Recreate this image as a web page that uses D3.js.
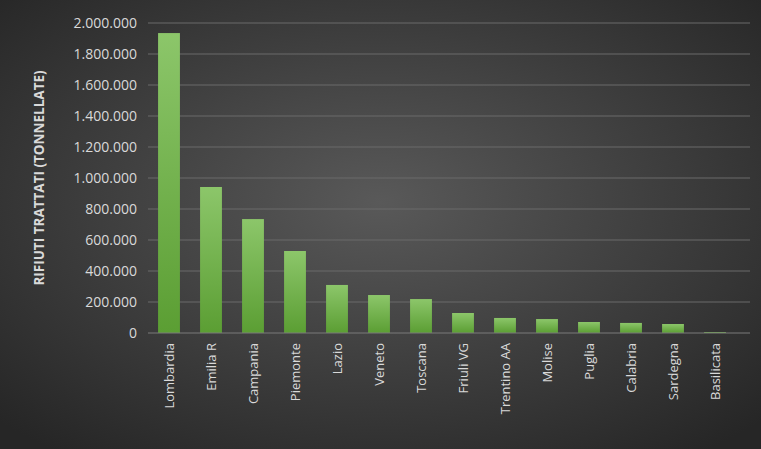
<!DOCTYPE html>
<html><head><meta charset="utf-8">
<script src="https://cdn.jsdelivr.net/npm/d3@7"></script>
<style>body{margin:0;background:#333}svg{display:block}</style>
</head><body>
<svg id="chart" width="761" height="449"></svg>
<script>
// dati
const regions = ['Lombardia','Emilia R','Campania','Piemonte','Lazio','Veneto','Toscana','Friuli VG','Trentino AA','Molise','Puglia','Calabria','Sardegna','Basilicata'];
const tonnes = [1935000, 942000, 735000, 529000, 310000, 245000, 219000, 129000, 97000, 90000, 71000, 65000, 58000, 6000];
const yTicks = [0,200000,400000,600000,800000,1000000,1200000,1400000,1600000,1800000,2000000];

const W = 761, H = 449;
const margin = {top: 23, right: 11, bottom: 116, left: 148};
const svg = d3.select('#chart');
const defs = svg.append('defs');

const bg = defs.append('radialGradient').attr('id','bg').attr('cx','50%').attr('cy','45%').attr('r','70%');
bg.append('stop').attr('offset','0%').attr('stop-color','#595959');
bg.append('stop').attr('offset','100%').attr('stop-color','#262626');

const barGrad = defs.append('linearGradient').attr('id','bar').attr('x1',0).attr('y1',0).attr('x2',0).attr('y2',1);
barGrad.append('stop').attr('offset','0%').attr('stop-color','#8cc66a');
barGrad.append('stop').attr('offset','100%').attr('stop-color','#5b9e33');

svg.append('rect').attr('width',W).attr('height',H).attr('fill','url(#bg)');

// categorie su 42px ciascuna
const x = d3.scaleBand().domain(regions).range([margin.left, margin.left + 42 * regions.length]).paddingInner(0.48).paddingOuter(0.24);
const y = d3.scaleLinear().domain([0, 2000000]).range([H - margin.bottom, margin.top]);
const fmt = d => d3.format(',')(d).replace(/,/g, '.');

// griglia
svg.append('g').selectAll('line').data(yTicks.slice(1)).enter().append('line')
    .attr('x1', margin.left).attr('x2', W - margin.right)
    .attr('y1', d => y(d)).attr('y2', d => y(d))
    .attr('stroke', '#6b6b6b').attr('stroke-width', 1);

// barre
svg.append('g').selectAll('rect').data(tonnes).enter().append('rect')
    .attr('x', (d, i) => x(regions[i]))
    .attr('width', x.bandwidth())
    .attr('y', d => y(d))
    .attr('height', d => y(0) - y(d))
    .attr('fill', 'url(#bar)');

// asse x
svg.append('line').attr('x1', margin.left).attr('x2', W - margin.right)
    .attr('y1', y(0)).attr('y2', y(0)).attr('stroke', '#7a7a7a');

const yAxis = svg.append('g').attr('transform', `translate(${margin.left - 8},0)`)
    .call(d3.axisLeft(y).tickValues(yTicks).tickFormat(fmt).tickSize(0));
yAxis.select('.domain').remove();
yAxis.selectAll('text').attr('fill', '#d9d9d9').style('font-family', 'Open Sans, sans-serif').style('font-size', '14px');

const xAxis = svg.append('g').attr('transform', `translate(0,${y(0) + 10})`)
    .call(d3.axisBottom(x).tickSize(0));
xAxis.select('.domain').remove();
xAxis.selectAll('text')
    .attr('fill', '#d9d9d9').style('font-family', 'Open Sans, sans-serif').style('font-size', '13px')
    .attr('text-anchor', 'end').attr('dy', '0.35em').attr('dx', 0).attr('y', 0)
    .attr('transform', 'rotate(-90)');

svg.append('text')
    .attr('transform', `translate(44,${y(1000000)}) rotate(-90)`)
    .attr('text-anchor', 'middle')
    .attr('fill', '#d9d9d9')
    .style('font-family', 'Open Sans, sans-serif').style('font-size', '13.5px').style('font-weight', 'bold')
    .text('RIFIUTI TRATTATI (TONNELLATE)');
</script>
</body></html>
